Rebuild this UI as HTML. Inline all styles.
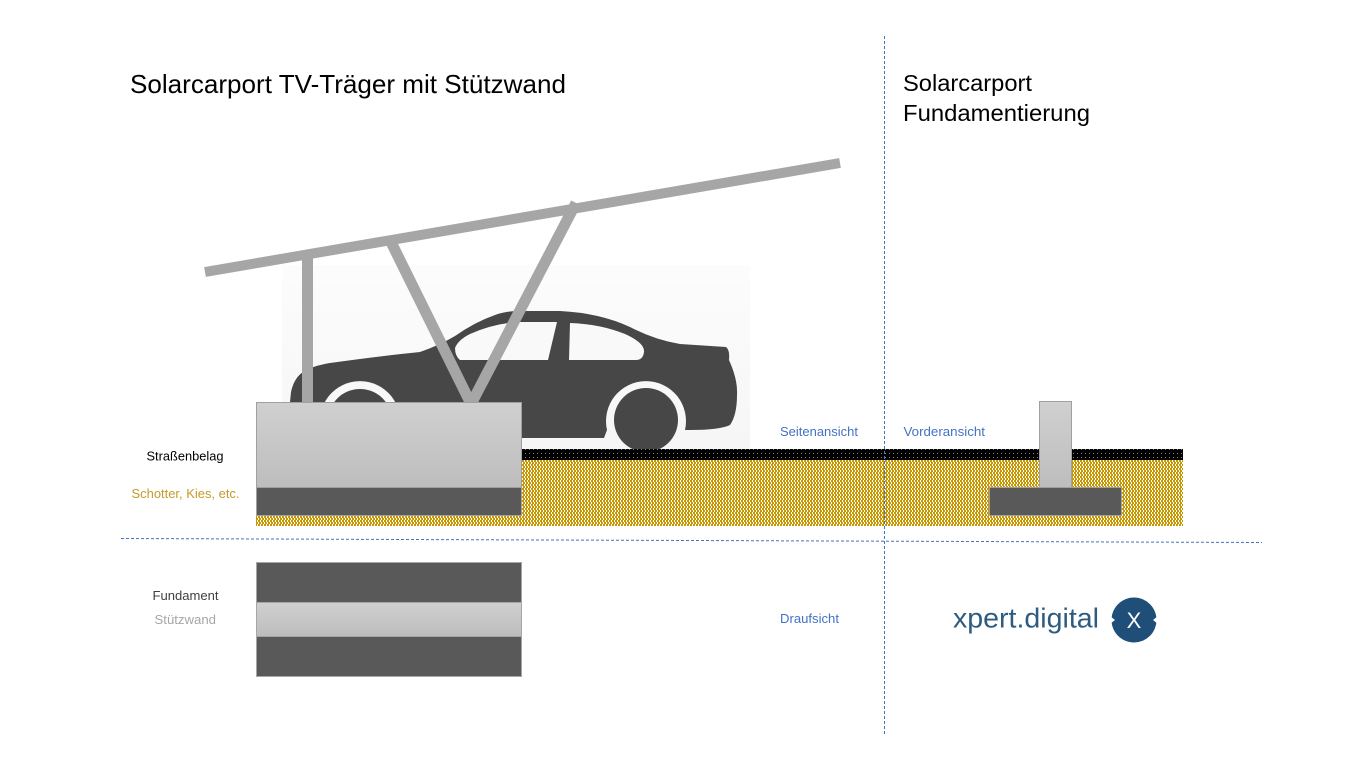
<!DOCTYPE html>
<html>
<head>
<meta charset="utf-8">
<style>
html,body{margin:0;padding:0;background:#fff;}
svg{display:block;}
text{font-family:"Liberation Sans",Arial,sans-serif;}
</style>
</head>
<body>
<svg width="1366" height="773" viewBox="0 0 1366 773" xmlns="http://www.w3.org/2000/svg">
  <defs>
    <pattern id="gravel" x="0" y="0" width="6" height="4" patternUnits="userSpaceOnUse">
      <rect width="6" height="4" fill="#ffffff" shape-rendering="crispEdges"/>
      <rect x="0" y="0" width="2" height="2" fill="#c99700" shape-rendering="crispEdges"/>
      <rect x="3" y="0" width="2" height="2" fill="#c99700" shape-rendering="crispEdges"/>
      <rect x="1" y="2" width="2" height="2" fill="#c99700" shape-rendering="crispEdges"/>
      <rect x="4" y="2" width="2" height="2" fill="#c99700" shape-rendering="crispEdges"/>
    </pattern>
    <pattern id="asphalt" x="0" y="0" width="4" height="4" patternUnits="userSpaceOnUse">
      <rect width="4" height="4" fill="#000" shape-rendering="crispEdges"/>
      <rect x="1" y="1" width="1" height="1" fill="#8a8a8a" shape-rendering="crispEdges"/>
    </pattern>
    <linearGradient id="lg" x1="0" y1="0" x2="0" y2="1">
      <stop offset="0" stop-color="#d0d0d0"/>
      <stop offset="1" stop-color="#bdbdbd"/>
    </linearGradient>
    <linearGradient id="bd" x1="0" y1="0" x2="0" y2="1">
      <stop offset="0" stop-color="#fcfcfc"/>
      <stop offset="1" stop-color="#f6f6f6"/>
    </linearGradient>
  </defs>

  <!-- light backdrop behind car -->
  <rect x="282" y="265" width="468" height="185" fill="url(#bd)"/>

  <!-- car -->
  <path fill="#474747" d="M 290,402 L 291,392 Q 294,378 303,372 Q 312,366 330,363 Q 380,356 420,352 Q 440,345 455,336 Q 475,322 495,315 Q 505,311 520,311 L 560,311 Q 600,313 630,327 Q 655,340 680,344 L 726,347 Q 730,350 729,360 Q 738,380 737,395 Q 737,415 730,425 Q 720,430 690,430 L 685,430 A 40 40 0 1 0 607,430 L 604,438 L 405,438 L 399,430 A 40 40 0 1 0 321,430 L 290,430 Z"/>
  <circle cx="646" cy="420" r="32" fill="#474747"/>
  <circle cx="360" cy="421" r="32" fill="#474747"/>
  <path fill="#f9f9f9" d="M 455,348 Q 458,340 470,334 Q 495,323 520,322 L 557,322 L 548,360 L 460,360 Q 455,356 455,348 Z"/>
  <path fill="#f9f9f9" d="M 570,323 Q 600,324 625,334 Q 645,343 644,352 Q 643,360 636,360 L 569,360 Z"/>

  <!-- carport structure -->
  <line x1="205" y1="272" x2="840" y2="163" stroke="#a6a6a6" stroke-width="10"/>
  <rect x="302" y="252" width="11" height="152" fill="#a6a6a6"/>
  <line x1="389" y1="238" x2="473" y2="408" stroke="#a6a6a6" stroke-width="11"/>
  <line x1="576" y1="203" x2="469" y2="408" stroke="#a6a6a6" stroke-width="11"/>

  <!-- ground -->
  <rect x="256" y="460" width="927" height="66" fill="url(#gravel)" shape-rendering="crispEdges"/>
  <rect x="521" y="449" width="662" height="11" fill="url(#asphalt)" shape-rendering="crispEdges"/>

  <!-- side view block -->
  <rect x="256.5" y="402.5" width="265" height="85" fill="url(#lg)" stroke="#a0a0a0" stroke-width="1"/>
  <rect x="256.5" y="487.5" width="265" height="28" fill="#595959" stroke="#a0a0a0" stroke-width="1"/>

  <!-- front view -->
  <rect x="1039.5" y="401.5" width="32" height="86" fill="url(#lg)" stroke="#a0a0a0" stroke-width="1"/>
  <rect x="989.5" y="487.5" width="132" height="28" fill="#595959" stroke="#a0a0a0" stroke-width="1"/>

  <!-- top view -->
  <rect x="256.5" y="562.5" width="265" height="40" fill="#595959" stroke="#a6a6a6" stroke-width="1"/>
  <rect x="256.5" y="602.5" width="265" height="34" fill="url(#lg)" stroke="#a6a6a6" stroke-width="1"/>
  <rect x="256.5" y="636.5" width="265" height="40" fill="#595959" stroke="#a6a6a6" stroke-width="1"/>

  <!-- dashed separators -->
  <line x1="884.5" y1="36" x2="884.5" y2="734" stroke="#4472c4" stroke-width="1" stroke-dasharray="3,2"/>
  <line x1="121" y1="538.5" x2="1262" y2="542.5" stroke="#4472c4" stroke-width="1" stroke-dasharray="3,2"/>

  <!-- titles -->
  <text x="130" y="93" font-size="26" fill="#000" textLength="436" lengthAdjust="spacingAndGlyphs">Solarcarport TV-Träger mit Stützwand</text>
  <text x="903" y="91" font-size="23" fill="#000" textLength="129" lengthAdjust="spacingAndGlyphs">Solarcarport</text>
  <text x="903" y="121" font-size="23" fill="#000" textLength="187" lengthAdjust="spacingAndGlyphs">Fundamentierung</text>

  <!-- labels -->
  <text x="146.5" y="460.5" font-size="13" fill="#000" textLength="77" lengthAdjust="spacingAndGlyphs">Straßenbelag</text>
  <text x="131.5" y="498" font-size="13" fill="#c59b27" textLength="108" lengthAdjust="spacingAndGlyphs">Schotter, Kies, etc.</text>
  <text x="152.5" y="600" font-size="13" fill="#404040" textLength="66" lengthAdjust="spacingAndGlyphs">Fundament</text>
  <text x="154.5" y="624" font-size="13" fill="#a6a6a6" textLength="61.5" lengthAdjust="spacingAndGlyphs">Stützwand</text>
  <text x="780" y="436" font-size="13" fill="#4472c4" textLength="78" lengthAdjust="spacingAndGlyphs">Seitenansicht</text>
  <text x="903.5" y="436" font-size="13" fill="#4472c4" textLength="81.5" lengthAdjust="spacingAndGlyphs">Vorderansicht</text>
  <text x="780" y="623" font-size="13" fill="#4472c4" textLength="59" lengthAdjust="spacingAndGlyphs">Draufsicht</text>

  <!-- logo -->
  <text x="953" y="627.5" font-size="28" fill="#2e5b80" textLength="146" lengthAdjust="spacingAndGlyphs">xpert.digital</text>
  <circle cx="1134" cy="620" r="22.5" fill="#1f4e79"/>
  <polygon points="1110,616 1115,620 1110,624" fill="#fff"/>
  <polygon points="1158,616 1153,620 1158,624" fill="#fff"/>
  <text x="1134" y="628" font-size="22" fill="#fff" text-anchor="middle">X</text>
</svg>
</body>
</html>
